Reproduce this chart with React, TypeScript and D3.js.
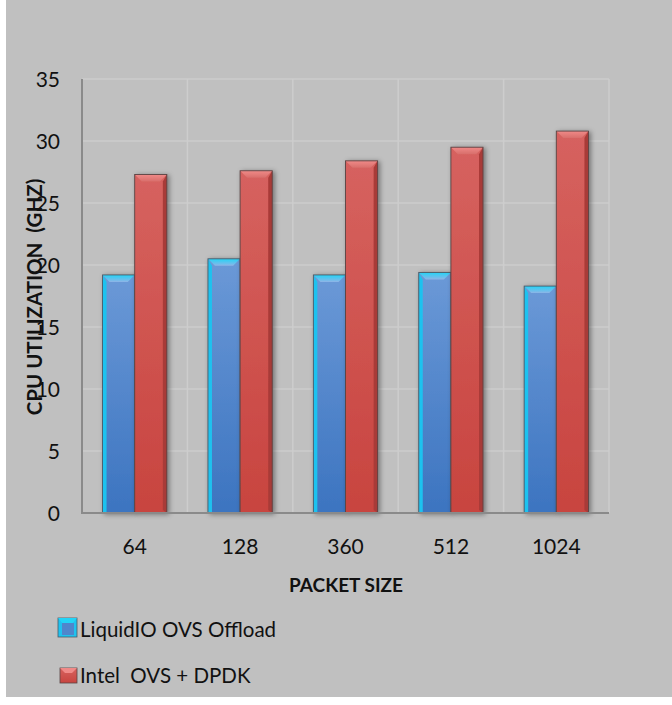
import React from 'react';
import * as d3 from 'd3';

const packetSizes = ['64', '128', '360', '512', '1024'];
const liquidIO = [19.2, 20.5, 19.2, 19.4, 18.3];
const intelDpdk = [27.3, 27.6, 28.4, 29.5, 30.8];
const seriesNames = ['LiquidIO OVS Offload', 'Intel  OVS + DPDK'];
const yTicks = [0, 5, 10, 15, 20, 25, 30, 35];

const W = 672;
const H = 705;
const FONT = 'Lato, "Open Sans", sans-serif';

const margin = { left: 82, right: 63, top: 79, bottom: 192 };

const Bar = ({ x, y, w, h, kind }: { x: number; y: number; w: number; h: number; kind: 'blue' | 'red' }) => {
  const bev = 7;
  const edge = 4;
  const bottom = y + h;
  if (kind === 'blue') {
    return (
      <g filter="url(#shadow)">
        <rect x={x} y={y} width={w} height={h} fill="url(#blueBody)" />
        <polygon points={`${x},${y} ${x + edge},${y + bev} ${x + edge},${bottom} ${x},${bottom}`} fill="#1fc2ef" />
        <polygon points={`${x},${y} ${x + w},${y} ${x + w - bev},${y + bev} ${x + bev},${y + bev}`} fill="url(#blueTop)" />
        <rect x={x} y={y} width={w} height={h} fill="none" stroke="#4d5a66" strokeWidth={0.9} />
      </g>
    );
  }
  return (
    <g filter="url(#shadow)">
      <rect x={x} y={y} width={w} height={h} fill="url(#redBody)" />
      <polygon points={`${x + w},${y} ${x + w - edge},${y + bev} ${x + w - edge},${bottom - 3} ${x + w},${bottom}`} fill="#a83a37" />
      <polygon points={`${x},${y} ${x + w},${y} ${x + w - bev},${y + bev} ${x + bev},${y + bev}`} fill="url(#redTop)" />
      <rect x={x} y={y} width={w} height={h} fill="none" stroke="#5a4444" strokeWidth={0.9} />
    </g>
  );
};

export default function App() {
  const innerW = W - margin.left - margin.right;
  const innerH = H - margin.top - margin.bottom;
  const x = d3.scaleBand<string>().domain(packetSizes).range([margin.left, margin.left + innerW]);
  const y = d3.scaleLinear().domain([0, 35]).range([margin.top + innerH, margin.top]);
  const barW = x.bandwidth() * 0.305;
  const y0 = y(0);

  return (
    <svg width={W} height={H} style={{ position: 'absolute', left: 0, top: 0 }}>
      <defs>
        <linearGradient id="blueBody" x1="0" y1="0" x2="0" y2="1">
          <stop offset="0" stopColor="#6b99d7" />
          <stop offset="1" stopColor="#3c74c0" />
        </linearGradient>
        <linearGradient id="blueTop" x1="0" y1="0" x2="0" y2="1">
          <stop offset="0" stopColor="#22d4f7" />
          <stop offset="1" stopColor="#8fb4e6" />
        </linearGradient>
        <linearGradient id="redBody" x1="0" y1="0" x2="0" y2="1">
          <stop offset="0" stopColor="#d6625f" />
          <stop offset="1" stopColor="#c8443f" />
        </linearGradient>
        <linearGradient id="redTop" x1="0" y1="0" x2="0" y2="1">
          <stop offset="0" stopColor="#f08a88" />
          <stop offset="1" stopColor="#d86e6b" />
        </linearGradient>
        <filter id="shadow" x="-30%" y="-10%" width="160%" height="120%">
          <feDropShadow dx="2" dy="1" stdDeviation="2.5" floodColor="#000" floodOpacity="0.4" />
        </filter>
      </defs>

      <rect x={6} y={0} width={W - 6} height={697} fill="#c0c0c0" />

      {/* gridlines */}
      {yTicks.filter(t => t > 0).map(t => (
        <line key={t} x1={margin.left} x2={margin.left + innerW} y1={y(t)} y2={y(t)} stroke="#cdcdcd" strokeWidth={1.5} />
      ))}
      {packetSizes.map(p => (
        <line key={p} x1={(x(p) as number) + x.bandwidth()} x2={(x(p) as number) + x.bandwidth()} y1={margin.top} y2={y0} stroke="#cdcdcd" strokeWidth={1.5} />
      ))}

      {/* bars */}
      {packetSizes.map((p, i) => {
        const cx = (x(p) as number) + x.bandwidth() / 2;
        return (
          <g key={p}>
            <Bar x={cx - barW} y={y(liquidIO[i])} w={barW} h={y0 - y(liquidIO[i])} kind="blue" />
            <Bar x={cx} y={y(intelDpdk[i])} w={barW} h={y0 - y(intelDpdk[i])} kind="red" />
          </g>
        );
      })}

      {/* axes */}
      <line x1={margin.left} x2={margin.left} y1={margin.top} y2={y0 + 1} stroke="#8a8a8a" strokeWidth={2} />
      <line x1={margin.left} x2={margin.left + innerW} y1={y0} y2={y0} stroke="#8a8a8a" strokeWidth={2} />

      {yTicks.map(t => (
        <text key={t} x={60} y={y(t)} dy="0.36em" textAnchor="end" fontFamily={FONT} fontSize={21} fill="#111">{t}</text>
      ))}
      {packetSizes.map(p => (
        <text key={p} x={(x(p) as number) + x.bandwidth() / 2} y={554} textAnchor="middle" fontFamily={FONT} fontSize={21} fill="#111">{p}</text>
      ))}

      <text x={346} y={592} textAnchor="middle" fontFamily={FONT} fontWeight="bold" fontSize={19} fill="#111">PACKET SIZE</text>
      <text transform="translate(42,297) rotate(-90)" textAnchor="middle" fontFamily={FONT} fontWeight="bold" fontSize={20.5} fill="#111" style={{ whiteSpace: 'pre' }}>CPU UTILIZATION  (GHZ)</text>

      {/* legend */}
      <g>
        <rect x={58} y={618} width={19} height={19} fill="#1fc2ef" stroke="#4d5a66" strokeWidth={0.8} />
        <polygon points="58,618 77,618 72,624 63,624" fill="#22d4f7" />
        <rect x={62} y={623} width={12} height={12} fill="#4f86cc" />
        <text x={80} y={637} fontFamily={FONT} fontSize={20.5} fill="#111">{seriesNames[0]}</text>
        <rect x={60} y={668} width={17} height={15} fill="url(#redBody)" stroke="#5a4444" strokeWidth={0.8} />
        <polygon points="60,668 77,668 72,673 65,673" fill="#f08a88" />
        <text x={80} y={683} fontFamily={FONT} fontSize={20.5} fill="#111" style={{ whiteSpace: 'pre' }}>{seriesNames[1]}</text>
      </g>
    </svg>
  );
}
